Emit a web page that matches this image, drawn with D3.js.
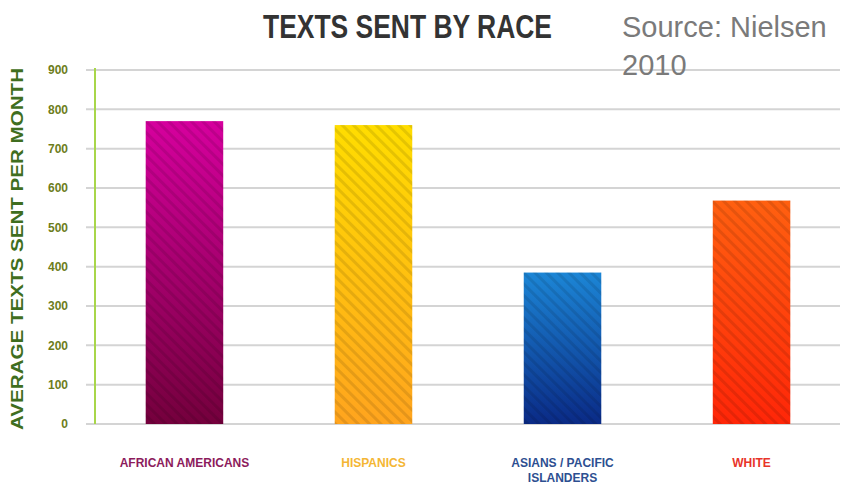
<!DOCTYPE html>
<html>
<head>
<meta charset="utf-8">
<script src="https://cdn.jsdelivr.net/npm/d3@7"></script>
<style>
  body { margin: 0; background: #fff; }
  svg { display: block; }
</style>
</head>
<body>
<script>
"use strict";
(function(){
    // chart data
    const categories = ["AFRICAN AMERICANS", "HISPANICS", "ASIANS / PACIFIC|ISLANDERS", "WHITE"]
    const textsPerMonth = [770, 760, 385, 568]
    const yTicks = [0, 100, 200, 300, 400, 500, 600, 700, 800, 900]
    const barTop = ["#d6009e", "#ffdd00", "#1c86d6", "#ff6010"]
    const barBottom = ["#74003c", "#ffa41e", "#0a2a86", "#ff2608"]
    const labelColor = ["#8c1b5c", "#f4b634", "#2d4f91", "#e8342a"]

    const measurements = {
        width: 846,
        height: 486,
        left: 95,
        right: 840,
        top: 70,
        bottom: 424
    }

    let svgContainer = d3.select('body').append("svg")
        .attr('width', measurements.width)
        .attr('height', measurements.height)

    let defs = svgContainer.append("defs")

    // gradient per bar
    categories.forEach((c, i) => {
        let g = defs.append("linearGradient")
            .attr("id", "grad" + i)
            .attr("x1", 0).attr("y1", 0).attr("x2", 0).attr("y2", 1)
        g.append("stop").attr("offset", "0%").attr("stop-color", barTop[i])
        g.append("stop").attr("offset", "100%").attr("stop-color", barBottom[i])
    })

    // diagonal stripe texture
    let stripes = defs.append("pattern")
        .attr("id", "stripes")
        .attr("patternUnits", "userSpaceOnUse")
        .attr("width", 8).attr("height", 8)
        .attr("patternTransform", "rotate(-45)")
    stripes.append("rect")
        .attr("width", 3).attr("height", 8)
        .attr("fill", "#000").attr("opacity", 0.1)

    let scaleX = d3.scaleBand()
        .domain(categories)
        .range([89, 847])
        .paddingInner(0.59)
        .paddingOuter(0.3)

    let scaleY = d3.scaleLinear()
        .domain([0, 900])
        .range([measurements.bottom, measurements.top])

    // gridlines
    svgContainer.append("g")
        .selectAll("line")
        .data(yTicks)
        .enter()
        .append("line")
            .attr("x1", 86)
            .attr("x2", measurements.right)
            .attr("y1", d => scaleY(d))
            .attr("y2", d => scaleY(d))
            .attr("stroke", "#d4d4d4")
            .attr("stroke-width", 2)

    // y axis labels
    let yAxis = d3.axisLeft(scaleY)
        .tickValues(yTicks)
        .tickSize(0)
        .tickPadding(0)
    let yAxisG = svgContainer.append('g')
        .attr('transform', 'translate(68, 0)')
        .call(yAxis)
    yAxisG.select(".domain").remove()
    yAxisG.selectAll("text")
        .attr("fill", "#6d7d1c")
        .style("font-family", "'Liberation Sans Narrow', 'Liberation Sans', Arial, sans-serif")
        .style("font-weight", "bold")
        .style("font-size", "12px")

    // green axis line
    svgContainer.append("line")
        .attr("x1", measurements.left).attr("x2", measurements.left)
        .attr("y1", measurements.top - 2).attr("y2", measurements.bottom)
        .attr("stroke", "#a8d64a")
        .attr("stroke-width", 2)

    // bars
    let bars = svgContainer.append("g")
        .selectAll("g")
        .data(categories)
        .enter()
        .append("g")
    bars.append("rect")
        .attr("x", d => scaleX(d))
        .attr("y", (d, i) => scaleY(textsPerMonth[i]))
        .attr("width", scaleX.bandwidth())
        .attr("height", (d, i) => scaleY(0) - scaleY(textsPerMonth[i]))
        .attr("fill", (d, i) => "url(#grad" + i + ")")
    bars.append("rect")
        .attr("x", d => scaleX(d))
        .attr("y", (d, i) => scaleY(textsPerMonth[i]))
        .attr("width", scaleX.bandwidth())
        .attr("height", (d, i) => scaleY(0) - scaleY(textsPerMonth[i]))
        .attr("fill", "url(#stripes)")

    // category labels
    let labels = svgContainer.append("g")
        .selectAll("text")
        .data(categories)
        .enter()
        .append("text")
            .attr("text-anchor", "middle")
            .attr("x", d => scaleX(d) + scaleX.bandwidth() / 2)
            .attr("y", 467)
            .attr("fill", (d, i) => labelColor[i])
            .style("font-family", "'Liberation Sans Narrow', 'Liberation Sans', Arial, sans-serif")
            .style("font-weight", "bold")
            .style("font-size", "12px")
    labels.each(function(d) {
        let parts = d.split("|")
        d3.select(this).selectAll("tspan")
            .data(parts)
            .enter()
            .append("tspan")
                .attr("x", scaleX(d) + scaleX.bandwidth() / 2)
                .attr("dy", (p, j) => j === 0 ? 0 : 15)
                .text(p => p)
    })

    // axis title
    svgContainer.append("text")
        .attr("transform", "translate(23, " + ((measurements.top + measurements.bottom) / 2 + 2) + ") rotate(-90)")
        .attr("text-anchor", "middle")
        .attr("fill", "#3f6e20")
        .attr("textLength", 362)
        .attr("lengthAdjust", "spacingAndGlyphs")
        .style("font-family", "'Liberation Sans', Arial, sans-serif")
        .style("font-weight", "bold")
        .style("font-size", "16px")
        .text("AVERAGE TEXTS SENT PER MONTH")

    // title
    svgContainer.append("text")
        .attr("x", 263)
        .attr("y", 38)
        .attr("fill", "#333")
        .attr("textLength", 289)
        .attr("lengthAdjust", "spacingAndGlyphs")
        .style("font-family", "'Liberation Sans Narrow', 'Liberation Sans', Arial, sans-serif")
        .style("font-weight", "bold")
        .style("font-size", "33px")
        .text("TEXTS SENT BY RACE")

    // source note
    svgContainer.append("text")
        .attr("x", 622)
        .attr("y", 37)
        .attr("fill", "#7a7a7a")
        .style("font-family", "'Liberation Sans', Arial, sans-serif")
        .style("font-size", "29px")
        .text("Source: Nielsen")
    svgContainer.append("text")
        .attr("x", 622)
        .attr("y", 75)
        .attr("fill", "#7a7a7a")
        .style("font-family", "'Liberation Sans', Arial, sans-serif")
        .style("font-size", "29px")
        .text("2010")
})()
</script>
</body>
</html>
